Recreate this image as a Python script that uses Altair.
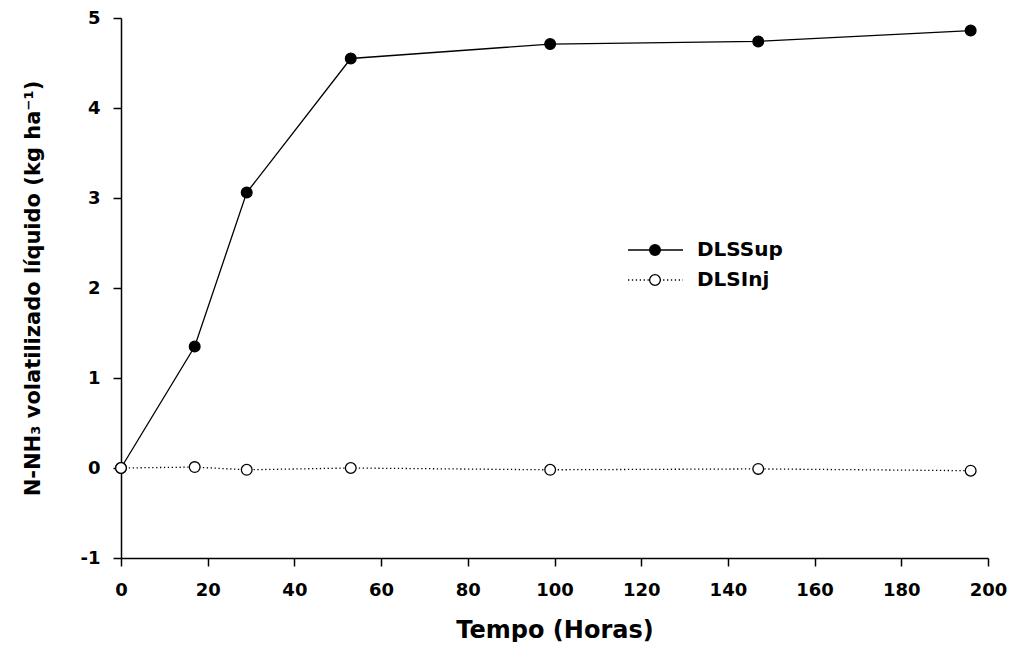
import altair as alt
import pandas as pd

# ---- data ----
series_names = ["DLSSup", "DLSInj"]
tempo = [0, 17, 29, 53, 99, 147, 196]
dls_sup = [0.0, 1.35, 3.06, 4.55, 4.71, 4.74, 4.86]
dls_inj = [0.0, 0.01, -0.02, 0.0, -0.02, -0.01, -0.03]
x_ticks = [0, 20, 40, 60, 80, 100, 120, 140, 160, 180, 200]
y_ticks = [-1, 0, 1, 2, 3, 4, 5]

x_title = "Tempo (Horas)"
y_title = "N-NH\u2083 volatilizado l\u00edquido (kg ha\u207b\u00b9)"

sup_df = pd.DataFrame({"t": tempo, "v": dls_sup, "serie": series_names[0]})
inj_df = pd.DataFrame({"t": tempo, "v": dls_inj, "serie": series_names[1]})
leg_df = pd.DataFrame({"label": series_names})

FONT = "DejaVu Sans"
W, H = 867, 540

xs = alt.Scale(domain=[0, 200], nice=False, zero=False)
ys = alt.Scale(domain=[-1, 5], nice=False, zero=False)

xenc = alt.X("t:Q", scale=xs, axis=alt.Axis(
    values=x_ticks, title=x_title, titleFontSize=24, titleX=W / 2, titleY=60,
    titleBaseline="top", labelPadding=15, labelFlush=False,
    labelExpr="'' + datum.value"))
yenc = alt.Y("v:Q", scale=ys, axis=alt.Axis(
    values=y_ticks, title=y_title, titleFontSize=21, titleX=-78, titleY=270,
    labelPadding=13, labelFlush=False, labelExpr="'' + datum.value"))

sup_line = alt.Chart(sup_df).mark_line(color="black", strokeWidth=1.3).encode(x=xenc, y=yenc)
inj_line = alt.Chart(inj_df).mark_line(color="black", strokeWidth=1.3,
                                       strokeDash=[1.3, 2.6]).encode(x="t:Q", y="v:Q")
sup_pts = alt.Chart(sup_df).mark_point(shape="circle", filled=True, fill="black",
                                       stroke="black", strokeWidth=1.3, size=115,
                                       opacity=1).encode(x="t:Q", y="v:Q")
inj_pts = alt.Chart(inj_df).mark_point(shape="circle", filled=True, fill="white",
                                       stroke="black", strokeWidth=1.3, size=115,
                                       opacity=1).encode(x="t:Q", y="v:Q")

# ---- manual legend (decoration, positioned in pixels) ----
leg1 = alt.Chart(leg_df).transform_filter(alt.datum.label == series_names[0])
leg2 = alt.Chart(leg_df).transform_filter(alt.datum.label == series_names[1])

l1_line = leg1.mark_rule(color="black", strokeWidth=1.3).encode(
    x=alt.value(507), x2=alt.value(562), y=alt.value(232))
l2_line = leg2.mark_rule(color="black", strokeWidth=1.3, strokeDash=[1.3, 2.6]).encode(
    x=alt.value(507), x2=alt.value(562), y=alt.value(262))
l1_pt = leg1.mark_point(shape="circle", filled=True, fill="black", stroke="black",
                        strokeWidth=1.3, size=115, opacity=1).encode(
    x=alt.value(534), y=alt.value(232))
l2_pt = leg2.mark_point(shape="circle", filled=True, fill="white", stroke="black",
                        strokeWidth=1.3, size=115, opacity=1).encode(
    x=alt.value(534), y=alt.value(262))
l1_txt = leg1.mark_text(align="left", baseline="middle", font=FONT, fontWeight="bold",
                        fontSize=20, color="black").encode(
    x=alt.value(576), y=alt.value(232), text="label:N")
l2_txt = leg2.mark_text(align="left", baseline="middle", font=FONT, fontWeight="bold",
                        fontSize=20, color="black").encode(
    x=alt.value(576), y=alt.value(262), text="label:N")

chart = alt.layer(
    sup_line, inj_line, sup_pts, inj_pts,
    l1_line, l2_line, l1_pt, l2_pt, l1_txt, l2_txt
).properties(
    width=W, height=H,
    autosize=alt.AutoSizeParams(type="none"),
    padding={"left": 113, "top": 10, "right": 19, "bottom": 84},
    background="white",
).configure_view(stroke=None).configure_axis(
    grid=False,
    domainColor="black", domainWidth=1.5,
    tickColor="black", tickWidth=1.5, tickSize=8,
    labelFont=FONT, labelFontWeight="bold", labelFontSize=18, labelColor="black",
    titleFont=FONT, titleFontWeight="bold", titleColor="black",
)

chart.save("out.html", embed_options={"renderer": "svg", "actions": False})
